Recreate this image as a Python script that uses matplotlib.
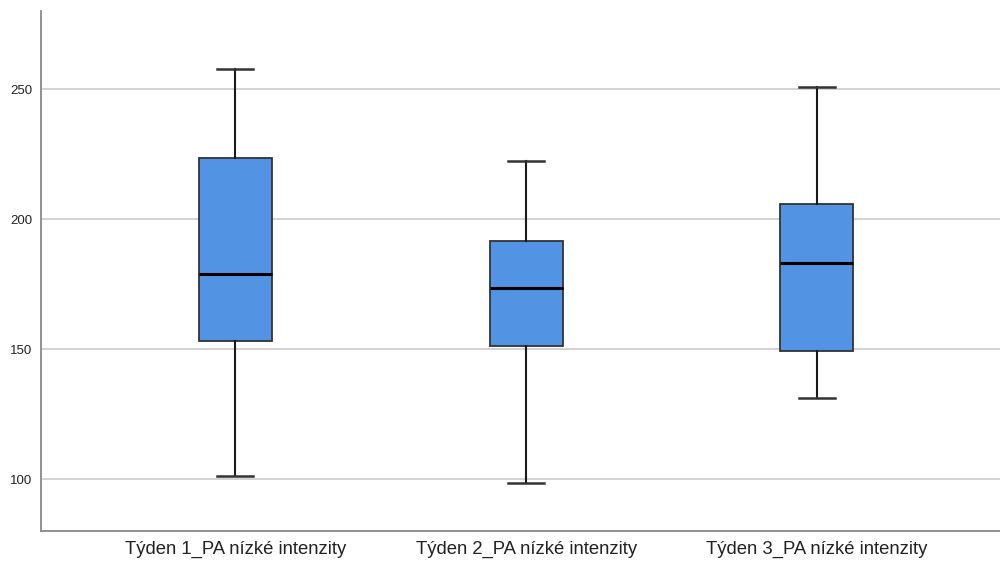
import matplotlib
matplotlib.use("Agg")
import matplotlib.pyplot as plt

# box plot values
labels = ["Týden 1_PA nízké intenzity", "Týden 2_PA nízké intenzity", "Týden 3_PA nízké intenzity"]
whislo = [101.0, 98.6, 131.2]
q1 = [153.1, 151.2, 149.3]
med = [178.8, 173.5, 183.1]
q3 = [223.4, 191.5, 205.7]
whishi = [257.8, 222.2, 251.0]

plt.rcParams['font.family'] = ['Liberation Sans', 'DejaVu Sans']

stats = []
for i in range(len(labels)):
    stats.append({"label": labels[i], "whislo": whislo[i], "q1": q1[i], "med": med[i],
                  "q3": q3[i], "whishi": whishi[i], "fliers": []})

fig = plt.figure(figsize=(10, 5.61), dpi=100)
ax = fig.add_axes([0.041, 0.0535, 0.959, 0.9265])

ax.bxp(stats, positions=[1, 2, 3], widths=0.251, capwidths=0.124, patch_artist=True,
       showfliers=False,
       boxprops=dict(facecolor="#5393e3", edgecolor="#333333", linewidth=1.3),
       medianprops=dict(color="black", linewidth=2.2),
       whiskerprops=dict(color="#1a1a1a", linewidth=1.5),
       capprops=dict(color="#333333", linewidth=1.8),
       zorder=3)

ax.set_xlim(0.331, 3.63)
ax.set_ylim(80, 280)
ax.set_yticks([100, 150, 200, 250])
ax.yaxis.grid(True, color="#cfcfcf", linewidth=1.3, zorder=0)
ax.set_axisbelow(True)
ax.tick_params(axis="both", length=0)
ax.tick_params(axis="y", labelsize=9.5, pad=6, labelcolor="#222222")
ax.tick_params(axis="x", labelsize=13.3, pad=7, labelcolor="#222222")
for s in ["top", "right"]:
    ax.spines[s].set_visible(False)
for s in ["left", "bottom"]:
    ax.spines[s].set_color("#888888")
    ax.spines[s].set_linewidth(1.3)

fig.savefig("out.png", dpi=100)
